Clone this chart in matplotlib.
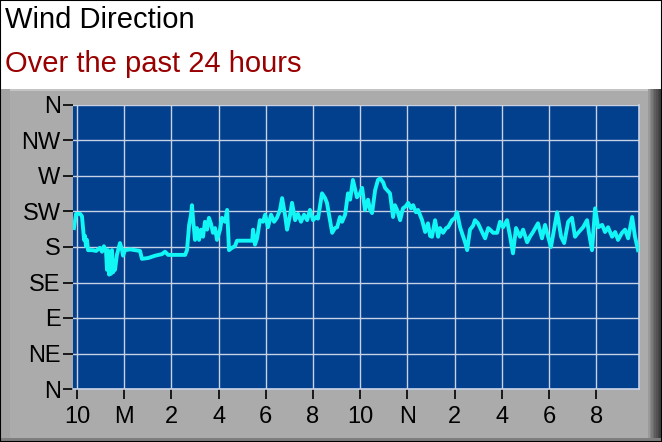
import matplotlib
matplotlib.use("Agg")
import matplotlib.pyplot as plt
from matplotlib.patches import Rectangle

# hours after 10 PM (0 = 10 PM, 2 = midnight, 14 = noon)
hours = [
    -0.13, -0.04, 0.13, 0.21, 0.30, 0.34, 0.38, 0.42, 0.47, 0.64, 0.81, 0.97,
    1.06, 1.14, 1.23, 1.27, 1.31, 1.36, 1.40, 1.44, 1.48, 1.53, 1.57, 1.61,
    1.69, 1.82, 1.91, 1.95, 2.03, 2.25, 2.46, 2.67, 2.75, 3.01, 3.31, 3.60,
    3.73, 3.86, 4.15, 4.58, 4.66, 4.75, 4.83, 4.87, 4.92, 5.00, 5.08, 5.17,
    5.25, 5.34, 5.42, 5.51, 5.59, 5.68, 5.76, 5.85, 5.93, 6.06, 6.14, 6.27,
    6.36, 6.44, 6.57, 6.69, 6.78, 7.12, 7.42, 7.46, 7.54, 7.63, 7.75, 7.88,
    7.97, 8.09, 8.22, 8.35, 8.47, 8.60, 8.69, 8.81, 8.90, 9.03, 9.11, 9.24,
    9.36, 9.49, 9.62, 9.75, 9.87, 10.00, 10.13, 10.21, 10.30, 10.38, 10.51, 10.59,
    10.72, 10.81, 10.93, 11.02, 11.14, 11.23, 11.36, 11.48, 11.57, 11.69, 11.86, 11.99,
    12.08, 12.20, 12.33, 12.42, 12.50, 12.63, 12.75, 12.84, 12.97, 13.05, 13.14, 13.26,
    13.39, 13.47, 13.56, 13.69, 13.81, 13.94, 14.03, 14.15, 14.24, 14.36, 14.45, 14.53,
    14.62, 14.75, 14.87, 14.96, 15.04, 15.17, 15.30, 15.38, 15.51, 15.64, 15.72, 15.89,
    16.02, 16.10, 16.23, 16.36, 16.44, 16.53, 16.65, 16.78, 16.86, 16.99, 17.16, 17.29,
    17.42, 17.50, 17.63, 17.80, 17.92, 18.05, 18.22, 18.35, 18.47, 18.60, 18.77, 18.90,
    19.07, 19.19, 19.32, 19.53, 19.70, 19.83, 19.96, 20.08, 20.21, 20.34, 20.51, 20.64,
    20.81, 20.97, 21.10, 21.23, 21.44, 21.61, 21.69, 21.82, 21.95, 22.08, 22.25, 22.37,
    22.50, 22.67, 22.80, 22.92, 23.09, 23.22, 23.35, 23.52, 23.64, 23.77,
]

# wind direction in degrees (0 = N, 180 = S)
direction = [
    204, 222, 222, 219, 189, 194, 181, 189, 176, 176, 175, 179,
    174, 181, 174, 151, 176, 145, 170, 146, 176, 148, 161, 151,
    170, 185, 176, 169, 176, 177, 176, 175, 165, 166, 169, 171,
    174, 170, 170, 170, 176, 208, 221, 233, 214, 189, 204, 189,
    202, 193, 212, 202, 217, 209, 198, 204, 189, 202, 217, 212,
    227, 176, 179, 181, 188, 188, 188, 202, 183, 191, 214, 212,
    221, 205, 221, 212, 217, 227, 242, 221, 202, 221, 236, 214,
    222, 212, 221, 214, 227, 214, 218, 216, 233, 248, 242, 236,
    214, 198, 204, 205, 218, 212, 221, 248, 240, 265, 243, 248,
    255, 227, 240, 227, 223, 252, 265, 267, 262, 255, 252, 248,
    218, 233, 227, 214, 229, 232, 236, 229, 233, 224, 227, 221,
    214, 199, 210, 194, 193, 214, 193, 204, 198, 204, 205, 214,
    217, 224, 205, 193, 186, 176, 202, 207, 214, 210, 199, 191,
    204, 202, 198, 198, 212, 205, 214, 193, 172, 204, 193, 202,
    186, 193, 199, 210, 191, 208, 193, 180, 202, 224, 193, 185,
    212, 217, 193, 198, 205, 214, 198, 176, 229, 205, 208, 199,
    205, 193, 199, 189, 198, 202, 191, 218, 193, 176,
]

hour_ticks = [0, 2, 4, 6, 8, 10, 12, 14, 16, 18, 20, 22]
hour_labels = ["10", "M", "2", "4", "6", "8", "10", "N", "2", "4", "6", "8"]
dir_ticks = [0, 45, 90, 135, 180, 225, 270, 315, 360]
dir_labels = ["N", "NE", "E", "SE", "S", "SW", "W", "NW", "N"]

W, H = 662, 442
plt.rcParams["font.family"] = ["Liberation Sans", "DejaVu Sans"]

fig = plt.figure(figsize=(W / 100, H / 100), dpi=100)
fig.patch.set_facecolor("white")


def box(x, y, w, h, color, z=0):
    # pixel box measured from the top-left corner of the image
    r = Rectangle((x / W, 1 - (y + h) / H), w / W, h / H,
                  transform=fig.transFigure, facecolor=color,
                  edgecolor="none", zorder=z)
    fig.add_artist(r)


# grey panel with a bevelled edge
box(0, 89, W, H - 89, "#ABABAB", -5)
box(0, 89, W, 2, "#C4C4C4", -4)
box(0, 89, 10, H - 89, "#A3A3A3", -4)
for i, c in enumerate(["#9A9A9A", "#8A8A8A", "#7A7A7A", "#6C6C6C", "#5E5E5E",
                       "#525252", "#474747", "#3E3E3E"]):
    box(W - 14 + i * 1.6, 89, 1.8, H - 89, c, -4)
box(0, H - 4, W, 4, "#7E7E7E", -4)
box(0, H - 1, W, 1, "#404040", -3)

# outer black frame
fig.add_artist(Rectangle((0, 0), 1, 1, transform=fig.transFigure,
                         facecolor="none", edgecolor="black", linewidth=1.5,
                         zorder=10))

fig.text(5 / W, 1 - 20 / H, "Wind Direction", fontsize=21, color="black",
         ha="left", va="center")
fig.text(5 / W, 1 - 64 / H, "Over the past 24 hours", fontsize=21,
         color="#990000", ha="left", va="center")

ax = fig.add_axes([73 / W, 53 / H, 566 / W, 284 / H])
ax.set_facecolor("#023F8D")
ax.plot(hours, direction, color="#12F6F6", linewidth=2.8, zorder=3)

ax.set_xlim(-0.17, 23.81)
ax.set_ylim(0, 360)
ax.set_xticks(hour_ticks)
ax.set_xticklabels(hour_labels)
ax.set_yticks(dir_ticks)
ax.set_yticklabels(dir_labels)
ax.tick_params(axis="both", direction="out", length=7, width=1.2,
               color="black", labelsize=17, labelcolor="black")
ax.tick_params(axis="x", pad=5)
ax.tick_params(axis="y", pad=2)
ax.grid(True, color="#C8D2E6", linewidth=1.0, zorder=1)
ax.set_axisbelow(True)
for side in ["top", "left"]:
    ax.spines[side].set_visible(False)
for side in ["bottom", "right"]:
    ax.spines[side].set_color("#C8D2E6")
    ax.spines[side].set_linewidth(1.2)

fig.savefig("out.png", dpi=100)
